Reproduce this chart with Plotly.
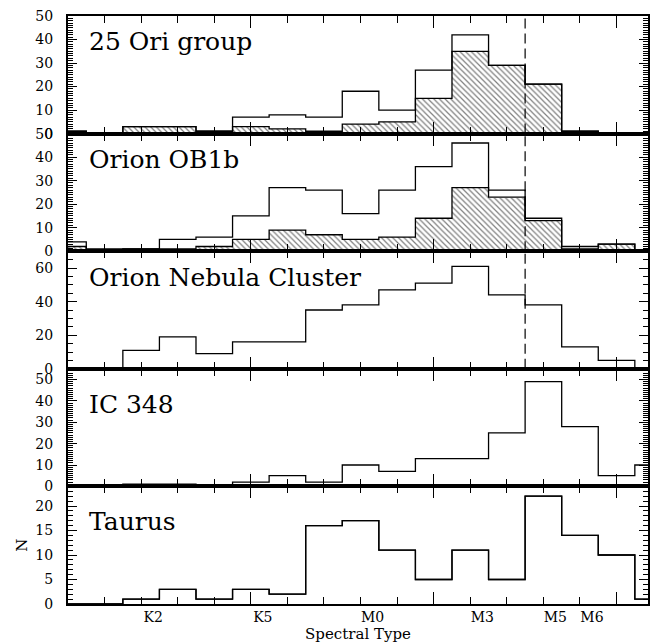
import plotly.graph_objects as go
from plotly.subplots import make_subplots

# spectral subclass index: K0..K7 -> 0..7, M0..M8 -> 8..16
spt_index = list(range(17))
tick_labels = ["K2", "K5", "M0", "M3", "M5", "M6"]
tick_label_pos = [2, 5, 8, 11, 13, 14]

ori25_all = [1, 0, 3, 3, 1, 7, 8, 7, 18, 10, 27, 42, 29, 21, 1, 0, 0]
ori25_sub = [1, 0, 3, 3, 1, 3, 2, 1, 4, 5, 15, 35, 29, 21, 1, 0, 0]
ob1b_all = [4, 1, 1, 5, 6, 15, 27, 26, 16, 26, 36, 46, 26, 14, 2, 3, 0]
ob1b_sub = [2, 0, 1, 1, 2, 5, 9, 7, 5, 6, 14, 27, 23, 13, 1, 3, 0]
onc = [0, 0, 11, 19, 9, 16, 16, 35, 38, 47, 51, 61, 44, 38, 13, 5, 0]
ic348 = [0, 0, 1, 1, 0, 2, 5, 2, 10, 7, 13, 13, 25, 49, 28, 5, 10]
taurus = [0, 0, 1, 3, 1, 3, 2, 16, 17, 11, 5, 11, 5, 22, 14, 10, 1]
dashed_limit = 12.5  # M4.5

panel_names = ["25 Ori group", "Orion OB1b", "Orion Nebula Cluster", "IC 348", "Taurus"]
y_max = [50, 50, 70, 55, 24]
y_dtick = [10, 10, 20, 10, 5]
y_minor = [1, 1, 5, 1, 1]
name_ypos = [0.78, 0.78, 0.78, 0.70, 0.70]

FONT = "DejaVu Serif"
X_MAX = 15.86

fig = make_subplots(rows=5, cols=1, shared_xaxes=True, vertical_spacing=0)


def step_xy(vals):
    xs = [c - 0.5 for c in spt_index] + [spt_index[-1] + 0.5]
    ys = list(vals) + [vals[-1]]
    return xs, ys


def step_trace(vals):
    xs, ys = step_xy(vals)
    return go.Scatter(x=xs, y=ys, mode="lines", line=dict(color="black", width=1.3, shape="hv"),
                      showlegend=False, hoverinfo="skip")


def add_step(vals, row):
    fig.add_trace(step_trace(vals), row=row, col=1)


def add_hatch(vals, row):
    fig.add_trace(go.Bar(x=spt_index, y=vals, width=1,
                         marker=dict(color="white", line=dict(width=0),
                                     pattern=dict(shape="\\", fgcolor="black", bgcolor="white",
                                                  size=4, solidity=0.3)),
                         showlegend=False, hoverinfo="skip"), row=row, col=1)


add_hatch(ori25_sub, 1)
add_step(ori25_sub, 1)
add_step(ori25_all, 1)
add_hatch(ob1b_sub, 2)
add_step(ob1b_sub, 2)
add_step(ob1b_all, 2)
add_step(onc, 3)
add_step(ic348, 4)
add_step(taurus, 5)
# same Taurus line also on the labelled overlay axis so that axis is drawn
t = step_trace(taurus)
t.update(xaxis="x6", yaxis="y5")
fig.add_trace(t)

# dashed completeness line, drawn as a data line in the top three panels
for r in (1, 2, 3):
    fig.add_trace(go.Scatter(x=[dashed_limit, dashed_limit], y=[0, y_max[r - 1]], mode="lines",
                             line=dict(color="black", width=1.2, dash="10px,5px"),
                             showlegend=False, hoverinfo="skip", cliponaxis=False), row=r, col=1)

# x tick marks (all panels, mirrored on top)
fig.update_xaxes(range=[0, X_MAX], tickmode="linear", tick0=0, dtick=5,
                 ticks="inside", ticklen=12, tickwidth=1, tickcolor="black",
                 minor=dict(tickmode="linear", tick0=0, dtick=1, ticks="inside", ticklen=7,
                            tickwidth=1, tickcolor="black"),
                 showline=True, linecolor="black", linewidth=2, mirror="ticks",
                 showticklabels=False, showgrid=False, zeroline=False, layer="above traces")

for i in range(5):
    r = i + 1
    fig.update_yaxes(row=r, col=1, range=[0, y_max[i]], tickmode="linear", tick0=0, dtick=y_dtick[i],
                     ticks="inside", ticklen=9, tickwidth=1, tickcolor="black",
                     minor=dict(tickmode="linear", tick0=0, dtick=y_minor[i], ticks="inside", ticklen=5,
                                tickwidth=1, tickcolor="black"),
                     showline=True, linecolor="black", linewidth=2, mirror="ticks",
                     showgrid=False, zeroline=False, ticklabelstandoff=10,
                     tickfont=dict(family=FONT, size=14, color="black"))
    xref = "x domain" if r == 1 else f"x{r} domain"
    yref = "y domain" if r == 1 else f"y{r} domain"
    fig.add_annotation(text=panel_names[i], xref=xref, yref=yref, x=0.032, y=name_ypos[i],
                       xanchor="left", yanchor="middle", showarrow=False,
                       font=dict(family=FONT, size=25, color="black"))

fig.update_yaxes(row=5, col=1, title=dict(text="N", font=dict(family=FONT, size=15, color="black"), standoff=4))

fig.update_layout(
    xaxis6=dict(overlaying="x5", anchor="y5", side="bottom", range=[0, X_MAX],
                tickmode="array", tickvals=tick_label_pos, ticktext=tick_labels,
                ticks="", showline=False, showgrid=False, zeroline=False,
                ticklabelshift=12, ticklabelstandoff=3,
                tickfont=dict(family=FONT, size=14, color="black"),
                title=dict(text="Spectral Type", font=dict(family=FONT, size=15, color="black"), standoff=2)),
    width=650, height=644,
    margin=dict(l=68, r=0, t=16, b=40),
    plot_bgcolor="white", paper_bgcolor="white",
    showlegend=False, bargap=0,
)

fig.write_html("out.html")
